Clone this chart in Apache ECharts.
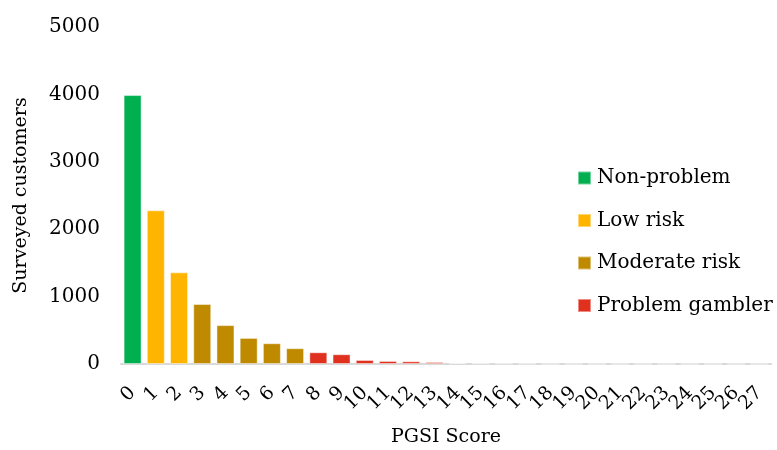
<!DOCTYPE html>
<html>
<head>
<meta charset="utf-8">
<script src="https://cdn.jsdelivr.net/npm/echarts@6/dist/echarts.min.js"></script>
<style>html,body{margin:0;padding:0;background:#fff}#c{width:777px;height:450px}</style>
</head>
<body>
<div id="c"></div>
<script>
const categories = ['0','1','2','3','4','5','6','7','8','9','10','11','12','13','14','15','16','17','18','19','20','21','22','23','24','25','26','27'];
const customers = [3990, 2280, 1360, 890, 577, 387, 308, 234, 174, 145, 60, 45, 40, 30, 15, 10, 8, 5, 0, 0, 0, 0, 0, 0, 0, 0, 0, 0];
const groupNames = ['Non-problem', 'Low risk', 'Moderate risk', 'Problem gambler'];
const groupStart = [0, 1, 3, 8]; // first PGSI score of each group
const groupColors = ['#00B050', '#FFB400', '#BF8A00', '#E0311F'];
const yTicks = [0, 1000, 2000, 3000, 4000, 5000];

function groupOf(i) {
  let g = 0;
  for (let k = 0; k < groupStart.length; k++) if (i >= groupStart[k]) g = k;
  return g;
}

const FONT = 'DejaVu Serif';
const series = groupNames.map((name, g) => ({
  name: name,
  type: 'bar',
  stack: 'all',
  barWidth: 18,
  itemStyle: { color: groupColors[g], borderColor: 'rgba(255,255,255,0.45)', borderWidth: 1 },
  data: customers.map((v, i) => groupOf(i) === g ? v : null)
}));

const chart = echarts.init(document.getElementById('c'), null, { renderer: 'canvas' });
chart.setOption({
  animation: false,
  textStyle: { fontFamily: FONT },
  grid: { left: 121, right: 6, top: 27, bottom: 86, containLabel: false, outerBoundsMode: 'none' },
  legend: {
    orient: 'vertical',
    left: 577,
    top: 168,
    padding: 0,
    itemWidth: 13,
    itemHeight: 13,
    itemGap: 22.5,
    icon: 'rect',
    textStyle: { fontFamily: FONT, fontSize: 20, color: '#000', padding: [0, 0, 0, 1] },
    data: groupNames
  },
  xAxis: {
    type: 'category',
    data: categories,
    name: 'PGSI Score',
    nameLocation: 'middle',
    nameGap: 64,
    nameTextStyle: { fontFamily: FONT, fontSize: 19, color: '#000' },
    axisLine: { lineStyle: { color: '#d9d9d9', width: 2 } },
    axisTick: { show: false },
    axisLabel: { rotate: 45, interval: 0, fontFamily: FONT, fontSize: 19, color: '#000', margin: 26 }
  },
  yAxis: {
    type: 'value',
    min: 0, max: 5000, interval: 1000,
    name: 'Surveyed customers',
    nameLocation: 'middle',
    nameGap: 90,
    nameRotate: 90,
    nameTextStyle: { fontFamily: FONT, fontSize: 19, color: '#000' },
    axisLine: { show: false },
    axisTick: { show: false },
    splitLine: { show: false },
    axisLabel: { fontFamily: FONT, fontSize: 20, color: '#000', margin: 21,
      formatter: v => yTicks.indexOf(v) >= 0 ? String(v) : '' }
  },
  series: series
});
</script>
</body>
</html>
